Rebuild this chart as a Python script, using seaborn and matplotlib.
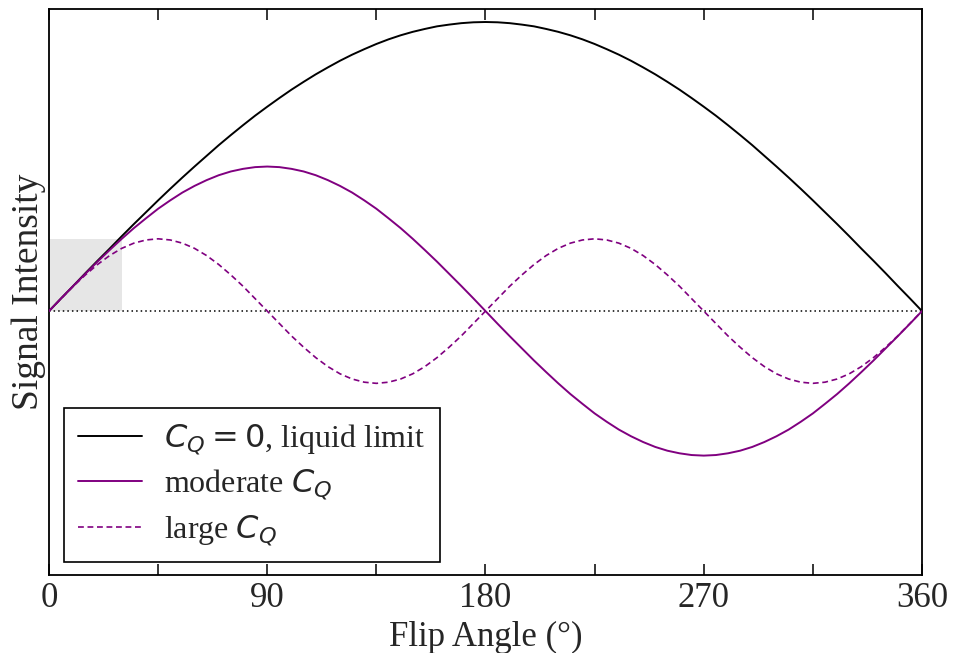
import matplotlib
matplotlib.use("Agg")
import matplotlib.pyplot as plt
import seaborn as sns
import numpy as np
import pandas as pd

# Flip angle samples (degrees)
flip_angle = list(range(0, 365, 5))

# C_Q = 0, liquid limit (normalized to its peak)
liquid = [0.000, 0.044, 0.087, 0.131, 0.174, 0.216, 0.259, 0.301, 0.342, 0.383,
          0.423, 0.462, 0.500, 0.537, 0.574, 0.609, 0.643, 0.676, 0.707, 0.737,
          0.766, 0.793, 0.819, 0.843, 0.866, 0.887, 0.906, 0.924, 0.940, 0.954,
          0.966, 0.976, 0.985, 0.991, 0.996, 0.999, 1.000,
          0.999, 0.996, 0.991, 0.985, 0.976, 0.966, 0.954, 0.940, 0.924, 0.906,
          0.887, 0.866, 0.843, 0.819, 0.793, 0.766, 0.737, 0.707, 0.676, 0.643,
          0.609, 0.574, 0.537, 0.500, 0.462, 0.423, 0.383, 0.342, 0.301, 0.259,
          0.216, 0.174, 0.131, 0.087, 0.044, 0.000]

# moderate C_Q
moderate = [0.000, 0.044, 0.087, 0.129, 0.171, 0.211, 0.250, 0.287, 0.321, 0.354,
            0.383, 0.410, 0.433, 0.453, 0.470, 0.483, 0.492, 0.498, 0.500,
            0.498, 0.492, 0.483, 0.470, 0.453, 0.433, 0.410, 0.383, 0.354, 0.321,
            0.287, 0.250, 0.211, 0.171, 0.129, 0.087, 0.044, 0.000,
            -0.044, -0.087, -0.129, -0.171, -0.211, -0.250, -0.287, -0.321, -0.354,
            -0.383, -0.410, -0.433, -0.453, -0.470, -0.483, -0.492, -0.498, -0.500,
            -0.498, -0.492, -0.483, -0.470, -0.453, -0.433, -0.410, -0.383, -0.354,
            -0.321, -0.287, -0.250, -0.211, -0.171, -0.129, -0.087, -0.044, 0.000]

# large C_Q
large = [0.000, 0.043, 0.086, 0.125, 0.161, 0.192, 0.217, 0.235, 0.246, 0.250,
         0.246, 0.235, 0.217, 0.192, 0.161, 0.125, 0.086, 0.043, 0.000,
         -0.043, -0.086, -0.125, -0.161, -0.192, -0.217, -0.235, -0.246, -0.250,
         -0.246, -0.235, -0.217, -0.192, -0.161, -0.125, -0.086, -0.043, 0.000,
         0.043, 0.086, 0.125, 0.161, 0.192, 0.217, 0.235, 0.246, 0.250,
         0.246, 0.235, 0.217, 0.192, 0.161, 0.125, 0.086, 0.043, 0.000,
         -0.043, -0.086, -0.125, -0.161, -0.192, -0.217, -0.235, -0.246, -0.250,
         -0.246, -0.235, -0.217, -0.192, -0.161, -0.125, -0.086, -0.043, 0.000]

series_labels = [r"$C_Q = 0$, liquid limit", r"moderate $C_Q$", r"large $C_Q$"]
x_ticks = [0, 90, 180, 270, 360]
x_minor = [45, 135, 225, 315]
highlight_x = [0, 30]
highlight_y = [0, 0.25]

sns.set_style("white")
plt.rcParams["font.family"] = ["Liberation Serif", "DejaVu Serif"]
plt.rcParams["mathtext.fontset"] = "dejavusans"

fig = plt.figure(figsize=(9.54, 6.53), dpi=100)
ax = fig.add_axes([49 / 954, 78 / 653, 873 / 954, 566 / 653])

df = pd.DataFrame({"angle": flip_angle, "liquid": liquid,
                   "moderate": moderate, "large": large})

purple = "#800080"
ax.fill_between(highlight_x, highlight_y[0], highlight_y[1], color="#e6e6e6",
                linewidth=0, zorder=0)
ax.axhline(0, color="black", linestyle=(0, (1, 2)), linewidth=1.1, zorder=1)

sns.lineplot(data=df, x="angle", y="liquid", ax=ax, color="black",
             linewidth=1.4, label=series_labels[0], zorder=3)
sns.lineplot(data=df, x="angle", y="moderate", ax=ax, color=purple,
             linewidth=1.4, label=series_labels[1], zorder=3)
sns.lineplot(data=df, x="angle", y="large", ax=ax, color=purple,
             linewidth=1.2, linestyle=(0, (3.5, 2.2)), label=series_labels[2], zorder=3)

ax.set_xlim(0, 360)
ax.set_ylim(-0.913, 1.045)
ax.set_xticks(x_ticks)
ax.set_xticks(x_minor, minor=True)
ax.set_xticklabels([str(t) for t in x_ticks])
ax.set_yticks([])
ax.tick_params(axis="x", which="both", direction="in", length=8, width=1.1,
               top=True, bottom=True, color="black", labelsize=25, pad=5)
for s in ax.spines.values():
    s.set_color("black")
    s.set_linewidth(1.3)

ax.set_xlabel("Flip Angle (°)", fontsize=25, labelpad=4)
ax.set_ylabel("Signal Intensity", fontsize=27, labelpad=2)

leg = ax.legend(loc="lower left", bbox_to_anchor=(0.017, 0.023), borderaxespad=0,
                fontsize=23, frameon=True, fancybox=False, edgecolor="black",
                handlelength=2.0, handletextpad=0.7, labelspacing=0.33,
                borderpad=0.45)
leg.get_frame().set_linewidth(1.2)
leg.get_frame().set_alpha(1)

fig.savefig("out.png", dpi=100)
